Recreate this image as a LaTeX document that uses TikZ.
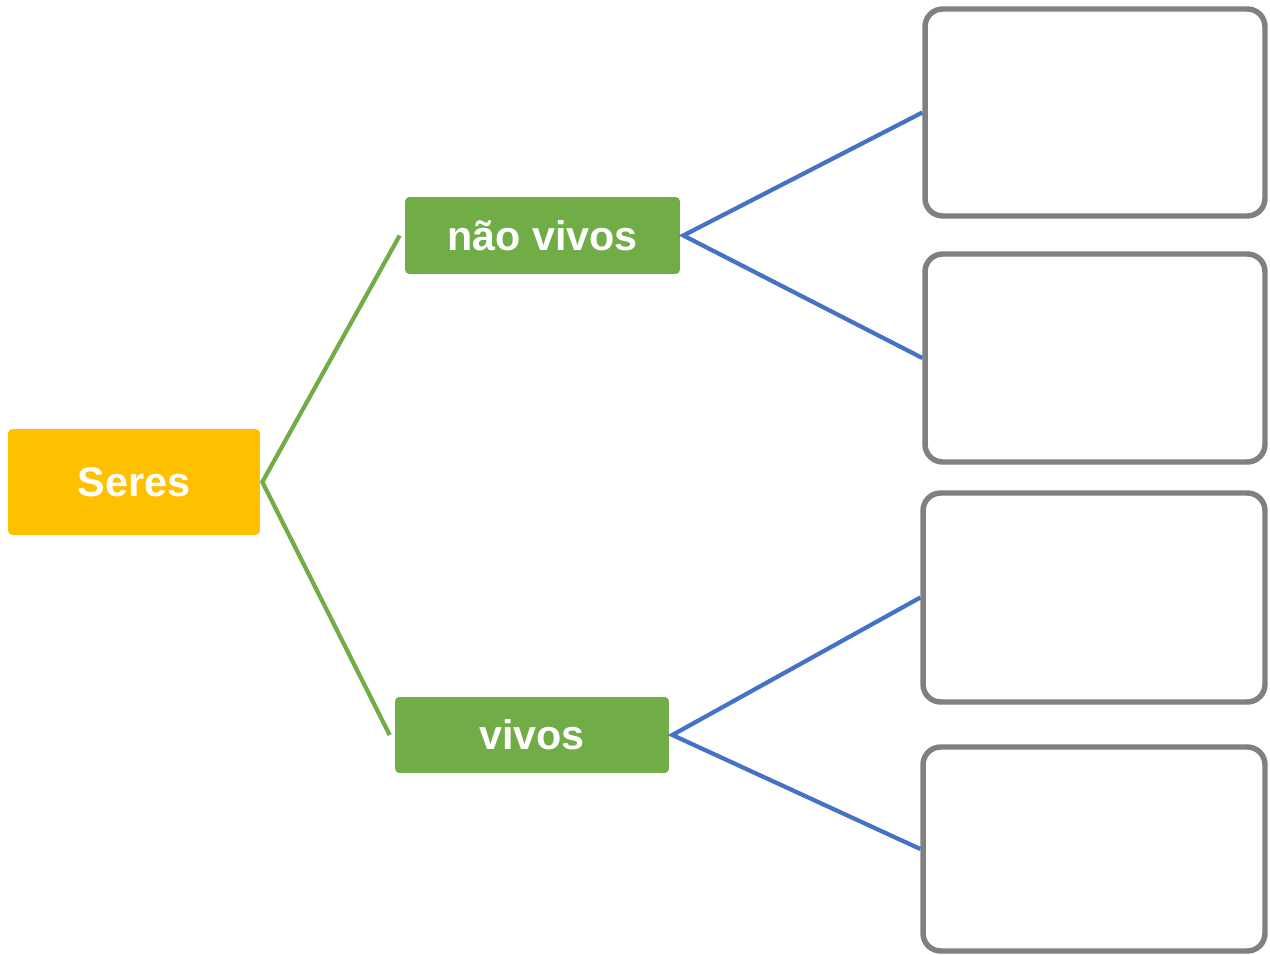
\documentclass[tikz,border=0pt]{standalone}
\usepackage{fontspec}
\setmainfont{Liberation Sans}
\definecolor{gold}{HTML}{FFC000}
\definecolor{leaf}{HTML}{70AD47}
\definecolor{link}{HTML}{4472C4}
\definecolor{frame}{HTML}{808080}
\begin{document}
\begin{tikzpicture}[x=0.02cm,y=-0.02cm,
  filledbox/.style={rectangle, rounded corners=2.5pt, inner sep=0pt, text=white,
    font=\fontsize{23.5pt}{28pt}\selectfont\bfseries},
  emptybox/.style={rectangle, rounded corners=10pt, draw=frame, line width=3.1pt,
    fill=white, inner sep=0pt},
  greenline/.style={draw=leaf, line width=2.4pt},
  blueline/.style={draw=link, line width=2.4pt}]
\useasboundingbox (0,0) rectangle (1270,955);
\node[filledbox, fill=gold, minimum width=5.04cm, minimum height=2.12cm] (seres) at (134,482) {Seres};
\node[filledbox, fill=leaf, minimum width=5.5cm, minimum height=1.54cm] (nv) at (542.5,235.5) {não vivos};
\node[filledbox, fill=leaf, minimum width=5.48cm, minimum height=1.52cm] (v) at (532,735) {vivos};
\node[emptybox, minimum width=6.8cm, minimum height=4.14cm] (b1) at (1095,112.5) {};
\node[emptybox, minimum width=6.8cm, minimum height=4.16cm] (b2) at (1095,358) {};
\node[emptybox, minimum width=6.84cm, minimum height=4.18cm] (b3) at (1094,597.5) {};
\node[emptybox, minimum width=6.84cm, minimum height=4.08cm] (b4) at (1094,849) {};
\draw[greenline] ([xshift=-5*0.02cm]nv.west) -- ([xshift=2*0.02cm]seres.east) -- ([xshift=-5*0.02cm]v.west);
\draw[blueline] (b1.west) -- ([xshift=3*0.02cm]nv.east) -- (b2.west);
\draw[blueline] (b3.west) -- ([xshift=3*0.02cm]v.east) -- (b4.west);
\end{tikzpicture}
\end{document}
